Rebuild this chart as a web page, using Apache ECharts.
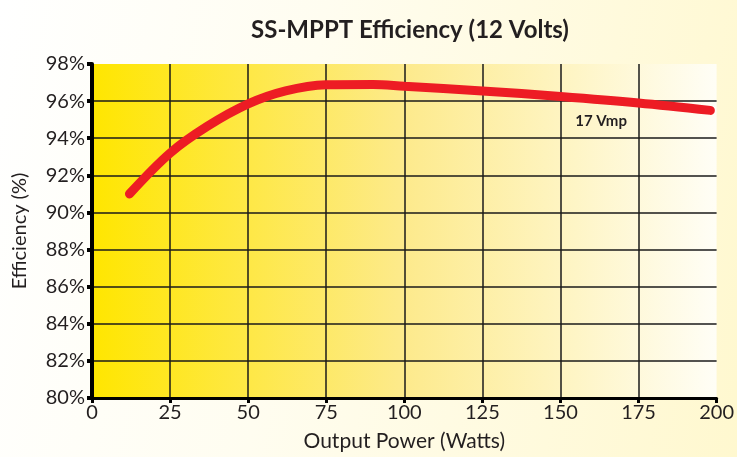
<!DOCTYPE html>
<html>
<head>
<meta charset="utf-8">
<script src="https://cdn.jsdelivr.net/npm/echarts@6/dist/echarts.min.js"></script>
<style>
  html, body { margin: 0; padding: 0; }
  #chart {
    width: 737px;
    height: 457px;
    background: linear-gradient(100deg, #ffffff 0%, #fffdf0 40%, #fff8cf 100%);
  }
</style>
</head>
<body>
<div id="chart"></div>
<script>
// output power (W) vs efficiency (%)
const powerWatts = [12, 25, 37, 50, 62, 75, 90, 100, 125, 150, 175, 198];
const efficiency = [91.0, 93.2, 94.65, 95.85, 96.55, 96.88, 96.9, 96.8, 96.55, 96.25, 95.9, 95.5];
const curveLabel = '17 Vmp';
const labelAt = [163, 94.9];

const textColor = '#231f20';
const fontFamily = 'Lato, "Open Sans", sans-serif';

let myChart = echarts.init(document.getElementById('chart'));
let option = {
  title: {
    text: 'SS-MPPT Efficiency (12 Volts)',
    left: 405,
    textAlign: 'center',
    top: 13,
    textStyle: { fontSize: 24, fontWeight: 'bold', color: textColor, fontFamily: fontFamily }
  },
  grid: {
    left: 92,
    right: 18,
    top: 64,
    bottom: 59,
    show: true,
    borderWidth: 0,
    backgroundColor: new echarts.graphic.LinearGradient(0, 0, 1, 0, [
      { offset: 0, color: '#ffe600' },
      { offset: 0.5, color: '#fdea8c' },
      { offset: 1, color: '#fffef6' }
    ])
  },
  xAxis: {
    type: 'value',
    min: 0,
    max: 200,
    interval: 25,
    name: 'Output Power (Watts)',
    nameLocation: 'middle',
    nameGap: 33,
    nameTextStyle: { fontSize: 21, color: textColor, fontFamily: fontFamily },
    axisLine: { lineStyle: { color: '#000', width: 3 } },
    axisTick: { show: true, length: 5, lineStyle: { color: '#000', width: 3 } },
    axisLabel: { fontSize: 20, color: textColor, fontFamily: fontFamily, margin: 5 },
    splitLine: { show: true, showMinLine: false, showMaxLine: false, lineStyle: { color: '#1a1a1a', width: 1.5 } }
  },
  yAxis: {
    type: 'value',
    min: 80,
    max: 98,
    interval: 2,
    name: 'Efficiency (%)',
    nameLocation: 'middle',
    nameRotate: 90,
    nameGap: 62,
    nameTextStyle: { fontSize: 20, color: textColor, fontFamily: fontFamily },
    axisLine: { show: true, lineStyle: { color: '#000', width: 4 } },
    axisTick: { show: true, length: 5, lineStyle: { color: '#000', width: 4 } },
    axisLabel: { fontSize: 20, color: textColor, fontFamily: fontFamily, margin: 7, formatter: '{value}%' },
    splitLine: { show: true, showMinLine: false, showMaxLine: false, lineStyle: { color: '#1a1a1a', width: 1.5 } }
  },
  series: [
    {
      type: 'line',
      smooth: 0.35,
      data: powerWatts.map((p, i) => [p, efficiency[i]]),
      showSymbol: false,
      lineStyle: { color: '#ed1c24', width: 9, cap: 'round' },
      markPoint: {
        symbol: 'circle',
        symbolSize: 1,
        itemStyle: { color: 'rgba(0,0,0,0)' },
        data: [{ coord: labelAt }],
        label: {
          show: true,
          position: 'inside',
          formatter: curveLabel,
          fontSize: 15,
          fontWeight: 'bold',
          color: textColor,
          fontFamily: fontFamily
        }
      }
    }
  ]
};
myChart.setOption(option);
</script>
</body>
</html>
